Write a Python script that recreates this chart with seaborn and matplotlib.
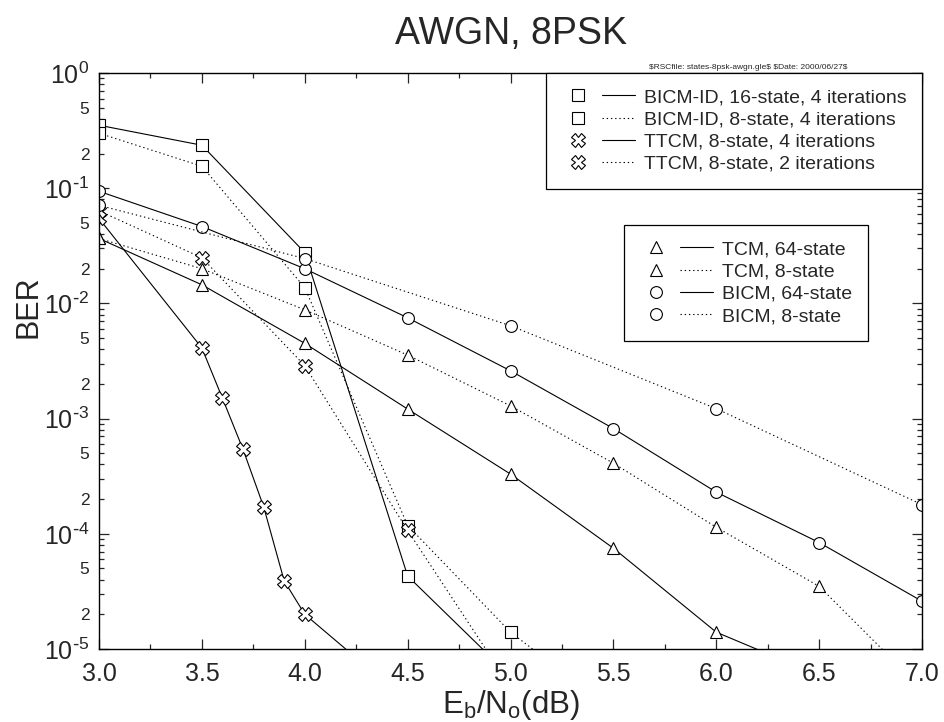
import numpy as np
import pandas as pd
import seaborn as sns
import matplotlib
matplotlib.use("Agg")
import matplotlib.pyplot as plt
from matplotlib.lines import Line2D
from matplotlib.legend_handler import HandlerTuple
from matplotlib.ticker import LogLocator, FuncFormatter, MultipleLocator

# Eb/No (dB) and BER
ebno_bicmid16 = [3.0, 3.5, 4.0, 4.5, 5.0]
ber_bicmid16 = [0.352, 0.236, 0.0276, 4.3e-5, 5.8e-6]

ebno_bicmid8 = [3.0, 3.5, 4.0, 4.5, 5.0, 5.5]
ber_bicmid8 = [0.30, 0.155, 0.0137, 1.18e-4, 1.4e-5, 2.9e-6]

ebno_ttcm4 = [3.0, 3.5, 3.6, 3.7, 3.8, 3.9, 4.0, 4.5]
ber_ttcm4 = [0.0546, 4.1e-3, 1.5e-3, 5.4e-4, 1.72e-4, 3.9e-5, 2.0e-5, 3.5e-6]

ebno_ttcm2 = [3.0, 3.5, 4.0, 4.5, 5.0]
ber_ttcm2 = [0.0636, 0.0249, 2.88e-3, 1.07e-4, 4.7e-6]

ebno_tcm64 = [3.0, 3.5, 4.0, 4.5, 5.0, 5.5, 6.0, 6.5]
ber_tcm64 = [0.0366, 0.0145, 4.5e-3, 1.21e-3, 3.3e-4, 7.5e-5, 1.4e-5, 5.9e-6]

ebno_tcm8 = [3.0, 3.5, 4.0, 4.5, 5.0, 5.5, 6.0, 6.5, 7.0]
ber_tcm8 = [0.0366, 0.020, 8.8e-3, 3.56e-3, 1.29e-3, 4.1e-4, 1.14e-4, 3.5e-5, 4.5e-6]

ebno_bicm64 = [3.0, 3.5, 4.0, 4.5, 5.0, 5.5, 6.0, 6.5, 7.0]
ber_bicm64 = [0.094, 0.0465, 0.020, 7.5e-3, 2.6e-3, 8.2e-4, 2.3e-4, 8.4e-5, 2.6e-5]

ebno_bicm8 = [3.0, 4.0, 5.0, 6.0, 7.0]
ber_bicm8 = [0.071, 0.0245, 6.4e-3, 1.22e-3, 1.79e-4]

labels_top = ["BICM-ID, 16-state, 4 iterations", "BICM-ID, 8-state, 4 iterations",
              "TTCM, 8-state, 4 iterations", "TTCM, 8-state, 2 iterations"]
labels_mid = ["TCM, 64-state", "TCM, 8-state", "BICM, 64-state", "BICM, 8-state"]

SOLID = "-"
DOTTED = (0, (1.2, 2.6))

# (x, y, marker, markersize, linestyle)
series_top = [
    (ebno_bicmid16, ber_bicmid16, "s", 8, SOLID),
    (ebno_bicmid8, ber_bicmid8, "s", 8, DOTTED),
    (ebno_ttcm4, ber_ttcm4, "X", 10, SOLID),
    (ebno_ttcm2, ber_ttcm2, "X", 10, DOTTED),
]
series_mid = [
    (ebno_tcm64, ber_tcm64, "^", 8.5, SOLID),
    (ebno_tcm8, ber_tcm8, "^", 8.5, DOTTED),
    (ebno_bicm64, ber_bicm64, "o", 8.5, SOLID),
    (ebno_bicm8, ber_bicm8, "o", 8.5, DOTTED),
]

sns.set_style("ticks")
plt.rcParams["font.family"] = ["Liberation Sans", "DejaVu Sans"]
plt.rcParams["mathtext.default"] = "regular"

fig = plt.figure(figsize=(9.44, 7.22), dpi=100)
ax = fig.add_axes([0.1049, 0.1011, 0.8718, 0.7978])

for x, y, mk, ms, ls in series_top + series_mid:
    sns.lineplot(x=x, y=y, ax=ax, color="black", lw=0.8, linestyle=ls,
                 marker=mk, markersize=ms, markerfacecolor="white",
                 markeredgecolor="black", markeredgewidth=0.8,
                 legend=False, estimator=None, sort=False)

ax.set_yscale("log")
ax.set_xlim(3.0, 7.0)
ax.set_ylim(1e-5, 1.0)

ax.xaxis.set_major_locator(MultipleLocator(0.5))
ax.xaxis.set_minor_locator(MultipleLocator(0.25))
ax.xaxis.set_major_formatter(FuncFormatter(lambda v, p: f"{v:.1f}"))


def major_fmt(v, p):
    e = int(round(np.log10(v)))
    if e < 0:
        return r"$10^{\text{-}%d}$" % (-e)
    return r"$10^{%d}$" % e


def minor_fmt(v, p):
    m = v / 10 ** np.floor(np.log10(v) + 1e-9)
    d = int(round(m))
    return str(d) if d in (2, 5) else ""


ax.yaxis.set_major_locator(LogLocator(base=10, numticks=20))
ax.yaxis.set_minor_locator(LogLocator(base=10, subs=range(2, 10), numticks=20))
ax.yaxis.set_major_formatter(FuncFormatter(major_fmt))
ax.yaxis.set_minor_formatter(FuncFormatter(minor_fmt))

ax.tick_params(which="both", direction="in", top=True, right=True, width=0.9)
ax.tick_params(which="major", length=7)
ax.tick_params(which="minor", length=3.5)
ax.tick_params(axis="x", which="major", labelsize=18, pad=9)
ax.tick_params(axis="y", which="major", labelsize=18, pad=7)
ax.tick_params(axis="y", which="minor", labelsize=12.5, pad=7)
for s in ax.spines.values():
    s.set_linewidth(1.0)
    s.set_color("black")

ax.set_title("AWGN, 8PSK", fontsize=27, pad=21)
ax.set_xlabel("E$_b$/N$_o$(dB)", fontsize=22.5, labelpad=2)
ax.set_ylabel("BER", fontsize=22)
ax.yaxis.set_label_coords(-0.068, 0.594)

ax.text(0.789, 1.0104, r"\$RSCfile: states-8psk-awgn.gle\$ \$Date: 2000/06/27\$",
        transform=ax.transAxes, ha="center", va="center", fontsize=6)


def make_handles(series):
    hs = []
    for x, y, mk, ms, ls in series:
        m = Line2D([], [], ls="none", marker=mk, markersize=ms, markerfacecolor="white",
                   markeredgecolor="black", markeredgewidth=0.8)
        l = Line2D([], [], color="black", lw=0.8, linestyle=ls)
        hs.append((m, l))
    return hs


leg_kw = dict(handler_map={tuple: HandlerTuple(ndivide=None, pad=0.36)},
              fontsize=14, handlelength=3.8, handletextpad=0.45, labelspacing=0.24,
              borderpad=0.8, borderaxespad=0, fancybox=False, edgecolor="black",
              framealpha=1)

leg1 = ax.legend(make_handles(series_top), labels_top, loc="upper right",
                 bbox_to_anchor=(1.0, 1.0), **leg_kw)
leg1.get_frame().set_linewidth(0.9)
ax.add_artist(leg1)
leg2 = ax.legend(make_handles(series_mid), labels_mid, loc="upper right",
                 bbox_to_anchor=(0.934, 0.736), **leg_kw)
leg2.get_frame().set_linewidth(0.9)

fig.savefig("out.png", dpi=100)
